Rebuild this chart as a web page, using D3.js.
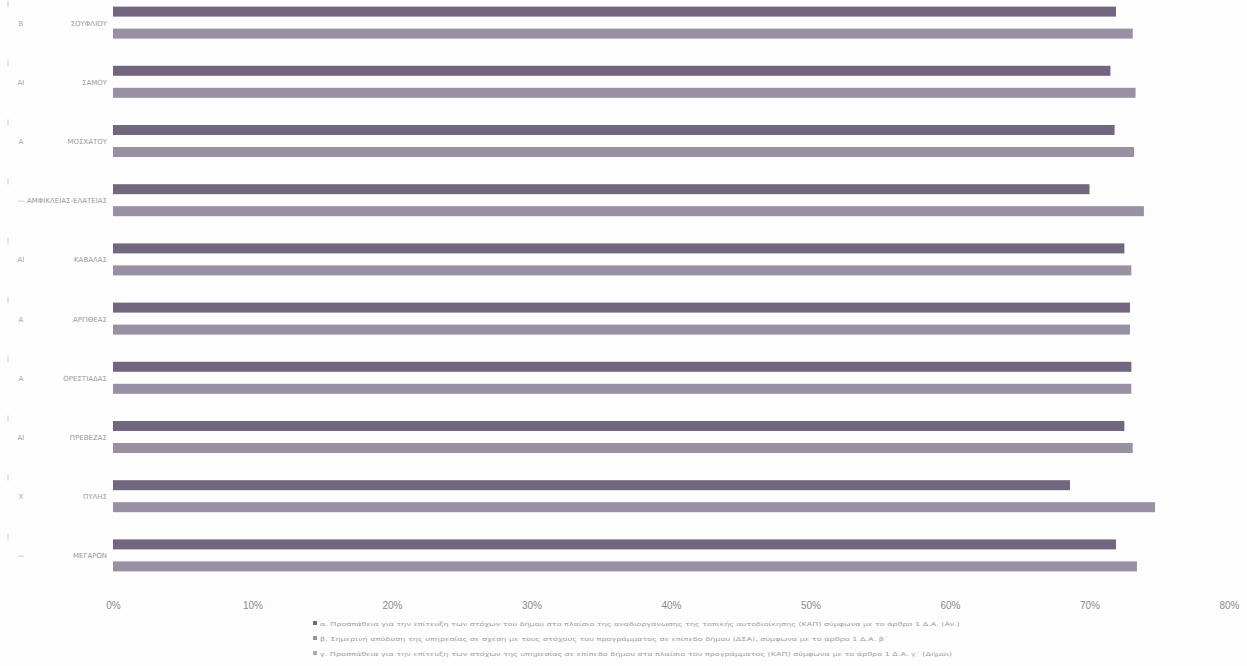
<!DOCTYPE html>
<html>
<head>
<meta charset="utf-8">
<script src="https://cdn.jsdelivr.net/npm/d3@7"></script>
<style>
  html, body { margin: 0; padding: 0; background: #fdfdfd; }
  svg { display: block; font-family: "DejaVu Sans", "Noto Sans", sans-serif; }
</style>
</head>
<body>
<svg id="chart" width="1247" height="666"></svg>
<script>
// ---- data ----
const categories = ["ΣΟΥΦΛΙΟΥ", "ΣΑΜΟΥ", "ΜΟΣΧΑΤΟΥ", "ΑΜΦΙΚΛΕΙΑΣ-ΕΛΑΤΕΙΑΣ", "ΚΑΒΑΛΑΣ",
                    "ΑΡΓΙΘΕΑΣ", "ΟΡΕΣΤΙΑΔΑΣ", "ΠΡΕΒΕΖΑΣ", "ΠΥΛΗΣ", "ΜΕΓΑΡΩΝ"];
const groupCodes = ["Β", "ΑΙ", "Α", "—", "ΑΙ", "Α", "Α", "ΑΙ", "Χ", "—"];
const seriesNames = [
  "α. Προσπάθεια για την επίτευξη των στόχων του δήμου στο πλαίσιο της αναδιοργάνωσης της τοπικής αυτοδιοίκησης (ΚΑΠ) σύμφωνα με το άρθρο 1 Δ.Α. (Αν.)",
  "β. Σημερινή απόδοση της υπηρεσίας σε σχέση με τους στόχους του προγράμματος σε επίπεδο δήμου (ΔΣΑ), σύμφωνα με το άρθρο 1 Δ.Α. β΄",
  "γ. Προσπάθεια για την επίτευξη των στόχων της υπηρεσίας σε επίπεδο δήμου στο πλαίσιο του προγράμματος (ΚΑΠ) σύμφωνα με το άρθρο 1 Δ.Α. γ΄ (Δήμοι)"
];
const seriesA = [71.9, 71.5, 71.8, 70.0, 72.5, 72.9, 73.0, 72.5, 68.6, 71.9];
const seriesB = [73.1, 73.3, 73.2, 73.9, 73.0, 72.9, 73.0, 73.1, 74.7, 73.4];
const tickValues = [0, 10, 20, 30, 40, 50, 60, 70, 80];

// ---- layout ----
const svg = d3.select("#chart");
const colors = ["#736780", "#9a90a3", "#b0a8b8"];
const legendWidths = [640, 568, 632];

const x = d3.scaleLinear().domain([0, 80]).range([113, 1229]);
const y = d3.scaleBand().domain(categories).range([-7, 585]);
const bw = y.bandwidth();
const inner = d3.scaleBand().domain([0, 1]).range([bw / 2 - 16, bw / 2 + 16]).paddingInner(0.5455).paddingOuter(0);

const series = [seriesA, seriesB];

const g = svg.append("g");
series.forEach((vals, si) => {
  g.selectAll(".bar" + si)
    .data(categories)
    .join("rect")
    .attr("class", "bar" + si)
    .attr("x", x(0))
    .attr("y", d => y(d) + inner(si))
    .attr("width", (d, i) => x(vals[i]) - x(0))
    .attr("height", inner.bandwidth())
    .attr("fill", colors[si]);
});

// category labels
svg.append("g").selectAll("text")
  .data(categories)
  .join("text")
  .attr("x", 107)
  .attr("y", d => y(d) + bw / 2 + 3)
  .attr("text-anchor", "end")
  .attr("font-size", 7)
  .attr("fill", "#9a9a9a")
  .text(d => d);

// group codes on the far left
svg.append("g").selectAll("text")
  .data(categories)
  .join("text")
  .attr("x", 21)
  .attr("y", d => y(d) + bw / 2 + 3)
  .attr("text-anchor", "middle")
  .attr("font-size", 7)
  .attr("fill", "#a8a8a8")
  .text((d, i) => groupCodes[i]);

// tiny marks left
svg.append("g").selectAll("line")
  .data(categories)
  .join("line")
  .attr("x1", 8).attr("x2", 8)
  .attr("y1", d => y(d) + 8).attr("y2", d => y(d) + 14)
  .attr("stroke", "#cfcfcf").attr("stroke-width", 1);

// x axis
const xAxis = d3.axisBottom(x).tickValues(tickValues).tickFormat(d => d + "%").tickSize(0);
const ax = svg.append("g").attr("transform", "translate(0,599)").call(xAxis);
ax.select(".domain").remove();
ax.selectAll("text").attr("font-size", 10).attr("fill", "#8a8a8a")
  .attr("font-family", "'Liberation Sans', Arial, sans-serif");

// legend
const leg = svg.append("g");
seriesNames.forEach((name, i) => {
  const yy = 626 + i * 15;
  leg.append("rect").attr("x", 313).attr("y", yy - 5).attr("width", 4).attr("height", 4).attr("fill", colors[i]);
  leg.append("text")
    .attr("x", 320).attr("y", yy)
    .attr("font-size", 5.5)
    .attr("fill", "#a0a0a0")
    .attr("textLength", legendWidths[i])
    .attr("lengthAdjust", "spacingAndGlyphs")
    .text(name);
});
</script>
</body>
</html>
